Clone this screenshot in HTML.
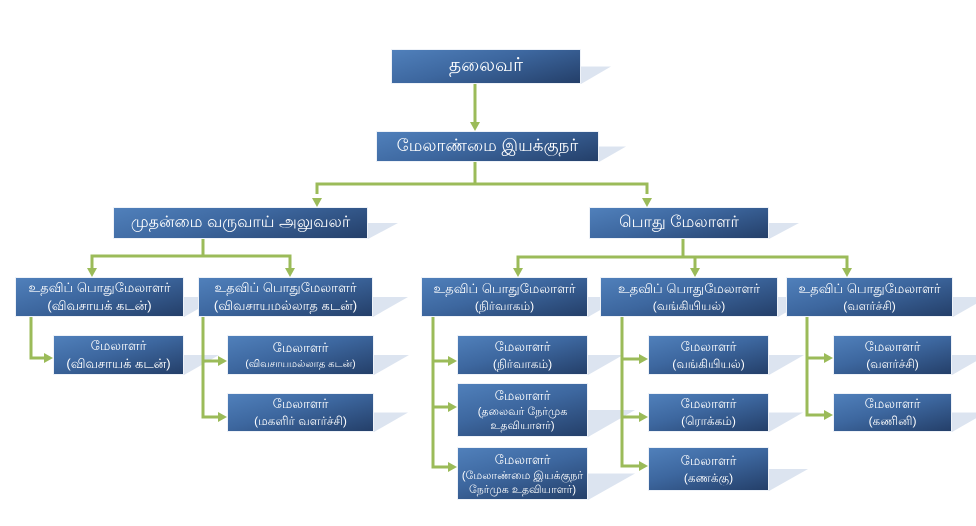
<!DOCTYPE html>
<html>
<head>
<meta charset="utf-8">
<style>
  html,body{margin:0;padding:0;background:#fff;}
  body{width:976px;height:526px;position:relative;overflow:hidden;font-family:"Liberation Sans","DejaVu Sans",sans-serif;}
  svg{position:absolute;left:0;top:0;}
  .b{position:absolute;box-sizing:border-box;border:1px solid #eef2f8;
     background:linear-gradient(165deg,#5080bb 0%,#3d679f 45%,#243f69 100%);
     color:#fff;display:flex;flex-direction:column;align-items:center;justify-content:center;
     text-align:center;white-space:nowrap;}
  .b span{display:block;}
  .l0{font-size:19px;}
  .l1{font-size:16px;}
  .l1b{font-size:17px;}
  .t{font-size:13px;line-height:18px;}
  .s{font-size:12px;line-height:17px;}
  .xs{font-size:10px;line-height:15px;}
  .xs2{font-size:11px;line-height:14px;}
</style>
</head>
<body>
<svg width="976" height="526" viewBox="0 0 976 526">
  <g fill="#dce4f0">
    <polygon points="581,66.5 611,66.5 581,84"/>
    <polygon points="599,146.5 626,146.5 599,162"/>
    <polygon points="368,223 398,223 368,239"/>
    <polygon points="769,223 799,223 769,239"/>
    <polygon points="184,297 219,297 184,317"/>
    <polygon points="373,297 408,297 373,317"/>
    <polygon points="588,297 623,297 588,317"/>
    <polygon points="778,297 813,297 778,317"/>
    <polygon points="953,297 988,297 953,317"/>
    <polygon points="184,355 219,355 184,375"/>
    <polygon points="374,355 409,355 374,375"/>
    <polygon points="374,412.5 408,412.5 374,432"/>
    <polygon points="588,355 623,355 588,375"/>
    <polygon points="588,410 635,410 588,437"/>
    <polygon points="588,473.5 635,473.5 588,500"/>
    <polygon points="769,355 804,355 769,375"/>
    <polygon points="769,412.5 803,412.5 769,432"/>
    <polygon points="769,469 808,469 769,491"/>
    <polygon points="952,355 987,355 952,375"/>
    <polygon points="952,412.5 986,412.5 952,432"/>
  </g>
  <g stroke="#9bbb59" stroke-width="3" fill="none">
    <line x1="475" y1="84" x2="475" y2="123"/>
    <line x1="475" y1="162" x2="475" y2="184"/>
    <polyline points="317,194 317,184 647,184 647,194"/>
    <line x1="203" y1="239" x2="203" y2="256"/>
    <polyline points="92,268 92,256 290,256 290,268"/>
    <line x1="683" y1="239" x2="683" y2="257"/>
    <polyline points="518,268 518,257 847,257 847,268"/>
    <line x1="695" y1="257" x2="695" y2="268"/>
    <polyline points="31,317 31,358 45,358"/>
    <polyline points="203,317 203,417 219,417"/>
    <line x1="203" y1="361" x2="219" y2="361"/>
    <polyline points="433,317 433,467 449,467"/>
    <line x1="433" y1="361" x2="449" y2="361"/>
    <line x1="433" y1="407" x2="449" y2="407"/>
    <polyline points="622,317 622,466 640,466"/>
    <line x1="622" y1="359" x2="640" y2="359"/>
    <line x1="622" y1="417" x2="640" y2="417"/>
    <polyline points="807,317 807,415 825,415"/>
    <line x1="807" y1="358" x2="825" y2="358"/>
  </g>
  <g fill="#9bbb59">
    <polygon points="470,122 480,122 475,131"/>
    <polygon points="312,198 322,198 317,207"/>
    <polygon points="642,198 652,198 647,207"/>
    <polygon points="87,268 97,268 92,277"/>
    <polygon points="285,268 295,268 290,277"/>
    <polygon points="513,268 523,268 518,277"/>
    <polygon points="690,268 700,268 695,277"/>
    <polygon points="842,268 852,268 847,277"/>
    <polygon points="44,353 44,363 53,358"/>
    <polygon points="218,356 218,366 227,361"/>
    <polygon points="218,412 218,422 227,417"/>
    <polygon points="448,356 448,366 457,361"/>
    <polygon points="448,402 448,412 457,407"/>
    <polygon points="448,462 448,472 457,467"/>
    <polygon points="639,354 639,364 648,359"/>
    <polygon points="639,412 639,422 648,417"/>
    <polygon points="639,461 639,471 648,466"/>
    <polygon points="824,353 824,363 833,358"/>
    <polygon points="824,410 824,420 833,415"/>
  </g>
</svg>

<div class="b l0" style="left:391px;top:49px;width:190px;height:35px;">தலைவர்</div>
<div class="b l1b" style="left:376px;top:131px;width:223px;height:31px;">மேலாண்மை இயக்குநர்</div>
<div class="b l1" style="left:113px;top:207px;width:255px;height:32px;">முதன்மை வருவாய் அலுவலர்</div>
<div class="b l1" style="left:589px;top:207px;width:180px;height:32px;">பொது மேலாளர்</div>

<div class="b t" style="left:15px;top:277px;width:169px;height:40px;"><span>உதவிப் பொதுமேலாளர்</span><span>(விவசாயக் கடன்)</span></div>
<div class="b t" style="left:198px;top:277px;width:175px;height:40px;"><span>உதவிப் பொதுமேலாளர்</span><span>(விவசாயமல்லாத கடன்)</span></div>
<div class="b t" style="left:421px;top:277px;width:167px;height:40px;"><span>உதவிப் பொதுமேலாளர்</span><span class="s">(நிர்வாகம்)</span></div>
<div class="b t" style="left:600px;top:277px;width:178px;height:40px;"><span>உதவிப் பொதுமேலாளர்</span><span class="s">(வங்கியியல்)</span></div>
<div class="b t" style="left:786px;top:277px;width:167px;height:40px;"><span>உதவிப் பொதுமேலாளர்</span><span class="s">(வளர்ச்சி)</span></div>

<div class="b t" style="left:53px;top:335px;width:131px;height:40px;"><span>மேலாளர்</span><span>(விவசாயக் கடன்)</span></div>
<div class="b t" style="left:227px;top:335px;width:147px;height:40px;"><span>மேலாளர்</span><span class="xs">(விவசாயமல்லாத கடன்)</span></div>
<div class="b t" style="left:227px;top:393px;width:147px;height:39px;"><span>மேலாளர்</span><span class="s">(மகளிர் வளர்ச்சி)</span></div>

<div class="b t" style="left:457px;top:335px;width:131px;height:40px;"><span>மேலாளர்</span><span class="s">(நிர்வாகம்)</span></div>
<div class="b t" style="left:457px;top:383px;width:131px;height:54px;"><span>மேலாளர்</span><span class="xs2">(தலைவர் நேர்முக</span><span class="xs2">உதவியாளர்)</span></div>
<div class="b t" style="left:457px;top:447px;width:131px;height:53px;"><span>மேலாளர்</span><span class="xs2">(மேலாண்மை இயக்குநர்</span><span class="xs2">நேர்முக உதவியாளர்)</span></div>

<div class="b t" style="left:648px;top:335px;width:121px;height:40px;"><span>மேலாளர்</span><span class="s">(வங்கியியல்)</span></div>
<div class="b t" style="left:648px;top:393px;width:121px;height:39px;"><span>மேலாளர்</span><span class="s">(ரொக்கம்)</span></div>
<div class="b t" style="left:648px;top:447px;width:121px;height:44px;"><span>மேலாளர்</span><span class="s">(கணக்கு)</span></div>

<div class="b t" style="left:833px;top:335px;width:119px;height:40px;"><span>மேலாளர்</span><span class="s">(வளர்ச்சி)</span></div>
<div class="b t" style="left:833px;top:393px;width:119px;height:39px;"><span>மேலாளர்</span><span class="s">(கணினி)</span></div>
</body>
</html>
